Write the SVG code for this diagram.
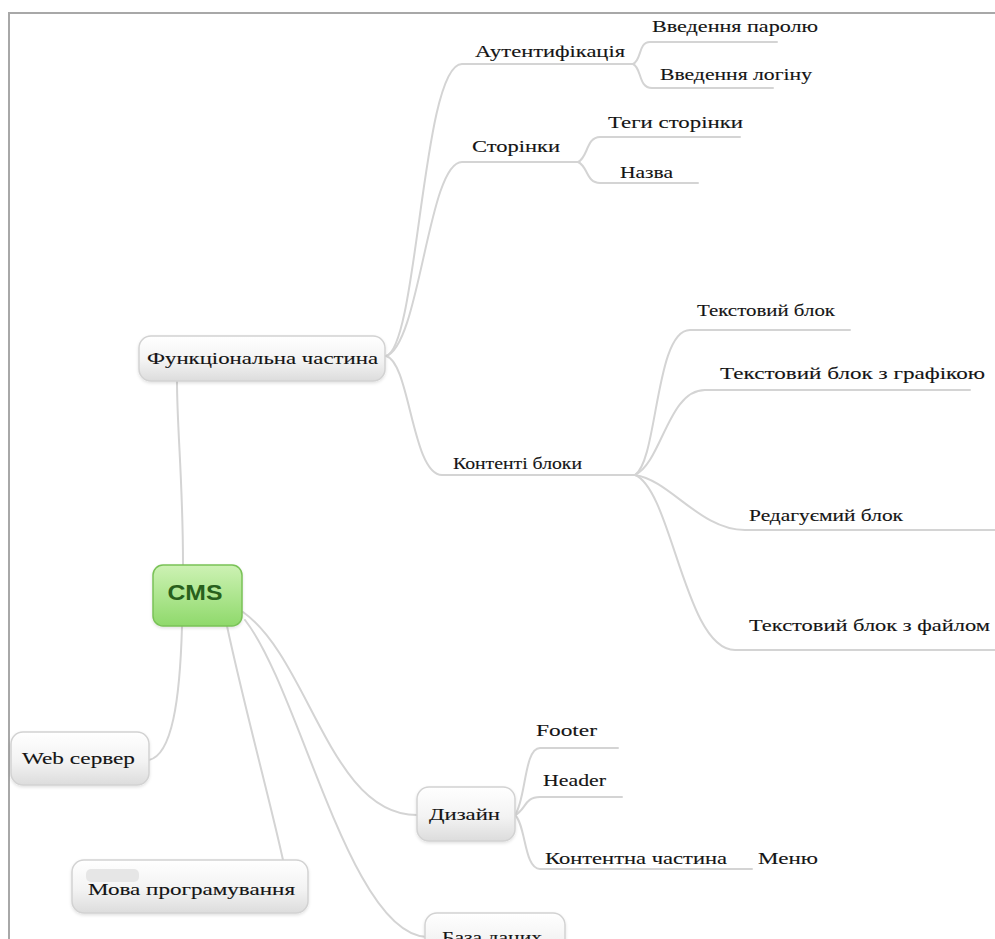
<svg xmlns="http://www.w3.org/2000/svg" width="995" height="939" viewBox="0 0 995 939">
<defs>
<linearGradient id="gGray" x1="0" y1="0" x2="0" y2="1">
<stop offset="0" stop-color="#ffffff"/>
<stop offset="0.55" stop-color="#f3f3f3"/>
<stop offset="1" stop-color="#dcdcdc"/>
</linearGradient>
<linearGradient id="gGreen" x1="0" y1="0" x2="0" y2="1">
<stop offset="0" stop-color="#cdf2b4"/>
<stop offset="1" stop-color="#8fd96b"/>
</linearGradient>
<filter id="sh" x="-10%" y="-10%" width="120%" height="130%">
<feDropShadow dx="0" dy="1.5" stdDeviation="1.5" flood-color="#000" flood-opacity="0.12"/>
</filter>
<style>
.node{fill:url(#gGray);stroke:#d2d2d2;stroke-width:1.5;filter:url(#sh)}
.cms{fill:url(#gGreen);stroke:#79c257;stroke-width:1.5;filter:url(#sh)}
.t{font-family:"Liberation Serif","DejaVu Serif",serif;font-size:17px;fill:#141414;stroke:#141414;stroke-width:0.12}
.c{fill:none;stroke:#d4d4d4;stroke-width:2;stroke-linecap:round}
.frame{fill:none;stroke:#a8a8a8;stroke-width:2}
</style>
</defs>
<rect width="995" height="939" fill="#ffffff"/>
<path class="frame" d="M9,939 L9,13 L995,13"/>

<g id="connectors">
<path class="c" d="M183,565 C183,480 177,430 177,381"/>
<path class="c" d="M386,356 C418,348 422,64 462,64 L633,64"/>
<path class="c" d="M633,64 C642,60 638,42 650,42 L777,42"/>
<path class="c" d="M633,64 C642,68 638,88 652,88 L773,88"/>
<path class="c" d="M386,356 C420,346 428,162 462,162 L578,162"/>
<path class="c" d="M578,162 C588,158 586,137 600,137 L740,137"/>
<path class="c" d="M578,162 C588,166 586,183 600,183 L698,183"/>
<path class="c" d="M386,356 C410,362 412,475 442,475 L635,475"/>
<path class="c" d="M635,475 C658,460 655,330 690,330 L850,330"/>
<path class="c" d="M635,475 C662,462 668,390 705,390 L970,390"/>
<path class="c" d="M635,475 C670,480 700,530 745,530 L995,530"/>
<path class="c" d="M635,475 C672,490 685,650 735,650 L995,650"/>
<path class="c" d="M182,626 C180,700 172,755 149,760"/>
<path class="c" d="M227,626 C245,710 270,800 283,860"/>
<path class="c" d="M243,612 C310,660 330,815 417,815"/>
<path class="c" d="M245,620 C300,690 350,935 427,937"/>
<path class="c" d="M515,815 C526,800 524,748 540,748 L618,748"/>
<path class="c" d="M515,815 C526,810 524,797 540,797 L622,797"/>
<path class="c" d="M515,815 C526,825 524,869 540,869 L752,869"/>
</g>

<g id="cms">
<rect class="cms" x="153" y="565" width="89" height="61" rx="10"/>
<text x="195" y="600" text-anchor="middle" font-family="Liberation Sans, Arial, sans-serif" font-weight="bold" font-size="22" fill="#285f1c" textLength="55" lengthAdjust="spacingAndGlyphs">CMS</text>
</g>

<g id="funktsionalna">
<rect class="node" x="139" y="336" width="246" height="45" rx="12"/>
<text class="t" x="147" y="364" textLength="231" lengthAdjust="spacingAndGlyphs">Функціональна частина</text>
</g>

<g id="autentyfikatsiia"><text class="t" x="475" y="57" textLength="150" lengthAdjust="spacingAndGlyphs">Аутентифікація</text></g>
<g id="parol"><text class="t" x="652" y="32" textLength="166" lengthAdjust="spacingAndGlyphs">Введення паролю</text></g>
<g id="login"><text class="t" x="660" y="80" textLength="152" lengthAdjust="spacingAndGlyphs">Введення логіну</text></g>
<g id="storinky"><text class="t" x="472" y="152" textLength="88" lengthAdjust="spacingAndGlyphs">Сторінки</text></g>
<g id="tehy"><text class="t" x="608" y="128" textLength="135" lengthAdjust="spacingAndGlyphs">Теги сторінки</text></g>
<g id="nazva"><text class="t" x="620" y="178" textLength="53" lengthAdjust="spacingAndGlyphs">Назва</text></g>
<g id="kontenti"><text class="t" x="453" y="469" textLength="129" lengthAdjust="spacingAndGlyphs">Контенті блоки</text></g>
<g id="tekst"><text class="t" x="697" y="316" textLength="138" lengthAdjust="spacingAndGlyphs">Текстовий блок</text></g>
<g id="tekst-hrafika"><text class="t" x="720" y="379" textLength="265" lengthAdjust="spacingAndGlyphs">Текстовий блок з графікою</text></g>
<g id="redahuiemyi"><text class="t" x="749" y="521" textLength="154" lengthAdjust="spacingAndGlyphs">Редагуємий блок</text></g>
<g id="tekst-fail"><text class="t" x="749" y="631" textLength="241" lengthAdjust="spacingAndGlyphs">Текстовий блок з файлом</text></g>

<g id="web-server">
<rect class="node" x="11" y="732" width="138" height="53" rx="12"/>
<text class="t" x="22" y="764" textLength="113" lengthAdjust="spacingAndGlyphs">Web сервер</text>
</g>

<g id="mova">
<rect class="node" x="72" y="860" width="236" height="53" rx="12"/>
<rect x="86" y="869" width="53" height="13" rx="5" fill="#e6e6e6"/>
<text class="t" x="88" y="895" textLength="207" lengthAdjust="spacingAndGlyphs">Мова програмування</text>
</g>

<g id="dyzain">
<rect class="node" x="417" y="787" width="98" height="54" rx="12"/>
<text class="t" x="429" y="820" textLength="71" lengthAdjust="spacingAndGlyphs">Дизайн</text>
</g>
<g id="footer"><text class="t" x="536" y="736" textLength="61" lengthAdjust="spacingAndGlyphs">Footer</text></g>
<g id="header"><text class="t" x="543" y="786" textLength="63" lengthAdjust="spacingAndGlyphs">Header</text></g>
<g id="kontentna"><text class="t" x="545" y="864" textLength="182" lengthAdjust="spacingAndGlyphs">Контентна частина</text></g>
<g id="meniu"><text class="t" x="758" y="864" textLength="60" lengthAdjust="spacingAndGlyphs">Меню</text></g>

<g id="baza">
<rect class="node" x="425" y="913" width="140" height="50" rx="12"/>
<text class="t" x="442" y="943" textLength="100" lengthAdjust="spacingAndGlyphs">База даних</text>
</g>
</svg>
